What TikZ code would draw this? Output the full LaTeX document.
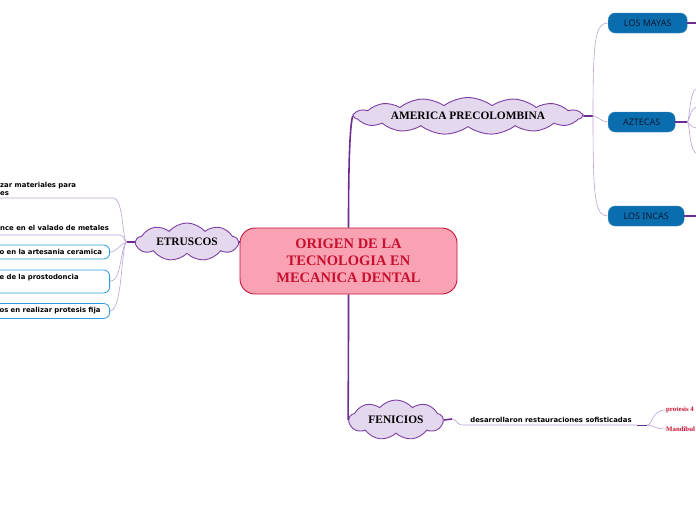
\documentclass[tikz,border=0pt]{standalone}
\usepackage{fontspec}
\setmainfont{Liberation Serif}
\newfontfamily\leaffont{DejaVu Sans}
\newfontfamily\pillfont{Noto Sans}
\usepackage{tikz}
\usetikzlibrary{positioning,shapes.symbols}

\definecolor{cloudfill}{HTML}{E4D8EE}
\definecolor{cloudline}{HTML}{7D3FA3}
\definecolor{trunk}{HTML}{6B2D8F}
\definecolor{twig}{HTML}{BBA2D5}
\definecolor{rootfill}{HTML}{F8A2B3}
\definecolor{rootline}{HTML}{C3143D}
\definecolor{roottext}{HTML}{C8102E}
\definecolor{pillfill}{HTML}{0A6DAE}
\definecolor{pilltext}{HTML}{0B1A33}
\definecolor{leafline}{HTML}{2D9BE0}

\begin{document}
\begin{tikzpicture}[x=1pt,y=-1pt,
  topic/.style={cloud, cloud puffs=9, cloud puff arc=100, cloud ignores aspect, draw=cloudline, fill=cloudfill, line width=0.9pt, font=\bfseries\fontsize{11.4}{13}\selectfont, inner sep=0pt},
  pill/.style={draw=pillfill!80!white, fill=pillfill, rounded corners=7pt, minimum height=20pt, text=pilltext, font=\pillfont\fontsize{9}{10}\selectfont, inner xsep=0pt, anchor=west},
  leaf/.style={font=\leaffont\bfseries\fontsize{6.9}{8.5}\selectfont, inner sep=0pt, align=left},
  leafbox/.style={leaf, draw=leafline, line width=0.8pt, rounded corners=6pt, text width=104pt, inner xsep=6pt, anchor=east},
  trunkline/.style={draw=trunk, line width=1.6pt},
  twigline/.style={draw=twig, line width=0.6pt},
  redleaf/.style={text=roottext, font=\bfseries\fontsize{6.8}{8}\selectfont, inner sep=0pt, anchor=west}]
\useasboundingbox[fill=white] (0,0) rectangle (696,520);

% central topic
\node[draw=rootline, fill=rootfill, line width=0.9pt, rounded corners=15pt, minimum width=217pt, minimum height=66pt, align=center, text=roottext, font=\bfseries\fontsize{14.5}{17}\selectfont] (origen) at (348.5,261) {ORIGEN DE LA\\TECNOLOGIA EN\\MECANICA DENTAL};

% main branches
\node[topic, cloud puffs=15, cloud puff arc=75, minimum width=228pt, minimum height=37pt] (america) at (468,116) {AMERICA PRECOLOMBINA};
\node[topic, minimum width=102pt, minimum height=38pt] (etruscos) at (187,242) {ETRUSCOS};
\node[topic, minimum width=94pt, minimum height=40pt] (fenicios) at (396,420) {FENICIOS};

\draw[trunkline] (origen.north) .. controls (348.5,160) and (350,125) .. (america.west);
\draw[trunkline] (origen.south) .. controls (348.5,380) and (348,410) .. (fenicios.west);
\draw[trunkline] (etruscos.east) -- (origen.west |- etruscos.east);

% america precolombina
\node[pill, minimum width=79pt] (mayas) at (608,23) {LOS MAYAS};
\node[pill, minimum width=67pt] (aztecas) at (608,122) {AZTECAS};
\node[pill, minimum width=76pt] (incas) at (608,216) {LOS INCAS};
\coordinate (ame-hub) at (593,116);
\coordinate (azt-hub) at (687,122);
\coordinate (mayas-out) at (698,23);
\coordinate (incas-out) at (698,216);
\draw[trunkline] (america.east) -- (ame-hub);
\draw[twigline] (ame-hub) .. controls (593,40) and (595,23) .. (mayas.west);
\draw[twigline] (ame-hub) .. controls (598,116) and (601,122) .. (aztecas.west);
\draw[twigline] (ame-hub) .. controls (593,200) and (595,216) .. (incas.west);
\draw[trunkline] (mayas.east) -- (mayas-out);
\draw[trunkline] (incas.east) -- (incas-out);
\draw[trunkline] (aztecas.east) -- (azt-hub);
\foreach \y in {88,107,128,154}
  \draw[twigline] (azt-hub) .. controls (690,122) and (689,\y) .. (698,\y);

% etruscos
\node[leaf, anchor=south west] (utilizar) at (0,196) {zar materiales para\\es};
\node[leaf, anchor=base west] (valado) at (0,230) {nce en el valado de metales};
\node[leafbox, minimum height=14pt] (ceramica) at (110,252) {o en la artesania ceramica};
\node[leafbox, minimum height=23pt] (prostodoncia) at (110,281.5) {e de la prostodoncia\\\mbox{}};
\node[leafbox, minimum height=15pt] (fija) at (110,311) {os en realizar protesis fija};
\coordinate (etr-hub) at (127,242);
\draw[trunkline] (etruscos.west) -- (etr-hub);
\draw[twigline] (-2,198) -- (113,198) .. controls (124,198) and (122,242) .. (etr-hub);
\draw[twigline] (-2,235) -- (120,235) .. controls (125,235) and (123,242) .. (etr-hub);
\draw[twigline] (ceramica.east) .. controls (118,252) and (121,242) .. (etr-hub);
\draw[twigline] (prostodoncia.east) .. controls (122,281.5) and (121,242) .. (etr-hub);
\draw[twigline] (fija.east) .. controls (123,311) and (121,242) .. (etr-hub);

% fenicios
\node[leaf, anchor=base] (restauraciones) at (551,422) {desarrollaron restauraciones sofisticadas};
\node[redleaf] (protesis) at (666,410) {protesis 4};
\node[redleaf] (mandibul) at (666,429) {Mandibul};
\coordinate (fen-hub) at (452,419);
\coordinate (res-end) at (647,425);
\draw[trunkline] (fenicios.east) -- (fen-hub);
\draw[twigline] (fen-hub) .. controls (457,419) and (456,425) .. (463,425) -- (637,425);
\draw[draw=trunk, line width=1pt] (637,425) -- (res-end);
\draw[twigline] (res-end) .. controls (653,425) and (651,410) .. (protesis.west);
\draw[twigline] (res-end) .. controls (653,425) and (655,429) .. (mandibul.west);
\end{tikzpicture}
\end{document}
